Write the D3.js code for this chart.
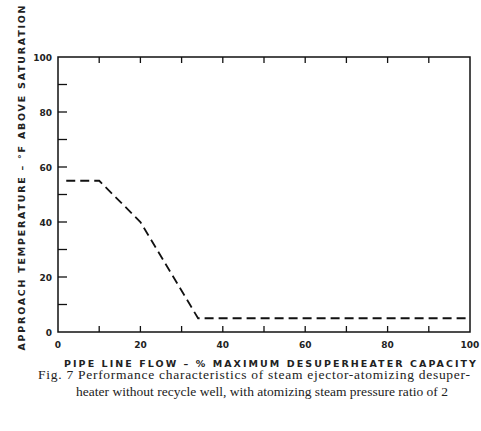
<!DOCTYPE html>
<html><head><meta charset="utf-8">
<script src="https://cdn.jsdelivr.net/npm/d3@7"></script>
<style>body{margin:0;background:#fff}</style></head>
<body><div id="chart"></div>
<script>
var flow = [2, 10, 20, 34, 100];
var temp = [55, 55, 40, 5, 5];
var tickVals = [0, 20, 40, 60, 80, 100];

var width = 481, height = 431;
var m = {left: 58, right: 11, top: 57, bottom: 99};
var svg = d3.select("#chart").append("svg").attr("width", width).attr("height", height);

var x = d3.scaleLinear().domain([0, 100]).range([m.left, width - m.right]);
var y = d3.scaleLinear().domain([0, 100]).range([height - m.bottom, m.top]);

svg.append("rect").attr("x", x(0)).attr("y", y(100))
    .attr("width", x(100) - x(0)).attr("height", y(0) - y(100))
    .attr("fill", "none").attr("stroke", "#111").attr("stroke-width", 1.5);

var minor = d3.range(10, 100, 10);
// inward ticks, bottom/top and left
svg.selectAll(".tb").data(minor).enter().append("line")
    .attr("x1", d => x(d)).attr("x2", d => x(d))
    .attr("y1", y(0)).attr("y2", y(0) - 6).attr("stroke", "#111").attr("stroke-width", 1.3);
svg.selectAll(".tt").data(minor).enter().append("line")
    .attr("x1", d => x(d)).attr("x2", d => x(d))
    .attr("y1", y(100)).attr("y2", y(100) + 6).attr("stroke", "#111").attr("stroke-width", 1.3);
svg.selectAll(".tl").data(minor).enter().append("line")
    .attr("x1", x(0)).attr("x2", x(0) + 9)
    .attr("y1", d => y(d)).attr("y2", d => y(d)).attr("stroke", "#111").attr("stroke-width", 1.3);

var font = "DejaVu Sans, sans-serif";
svg.selectAll(".xl").data(tickVals).enter().append("text")
    .attr("x", d => x(d)).attr("y", y(0) + 16).attr("text-anchor", "middle")
    .attr("font-family", font).attr("font-size", 9).attr("font-weight", "bold").attr("fill", "#222")
    .text(d => d);
svg.selectAll(".yl").data(tickVals).enter().append("text")
    .attr("x", x(0) - 6).attr("y", d => y(d) + 4).attr("text-anchor", "end")
    .attr("font-family", font).attr("font-size", 9).attr("font-weight", "bold").attr("fill", "#222")
    .text(d => d);

svg.append("text").attr("x", 270).attr("y", y(0) + 35)
    .attr("text-anchor", "middle").attr("font-family", font).attr("font-size", 9.5)
    .attr("font-weight", "bold").attr("fill", "#222").attr("xml:space", "preserve")
    .attr("textLength", 412).attr("lengthAdjust", "spacing")
    .text("PIPE LINE FLOW – % MAXIMUM DESUPERHEATER CAPACITY");

svg.append("text").attr("transform", "translate(25,178) rotate(-90)")
    .attr("text-anchor", "middle").attr("font-family", font).attr("font-size", 9.5)
    .attr("font-weight", "bold").attr("fill", "#222").attr("xml:space", "preserve")
    .attr("textLength", 345).attr("lengthAdjust", "spacing")
    .text("APPROACH TEMPERATURE – °F ABOVE SATURATION");

var line = d3.line().x((d, i) => x(flow[i])).y(d => y(d));
svg.append("path").datum(temp).attr("d", line)
    .attr("fill", "none").attr("stroke", "#111").attr("stroke-width", 1.8)
    .attr("stroke-dasharray", "9,5");

var cap = svg.append("text").attr("font-family", "Liberation Serif, serif")
    .attr("font-size", 13.5).attr("fill", "#222");
cap.append("tspan").attr("x", 38).attr("y", 379).attr("textLength", 432)
    .text("Fig. 7  Performance characteristics of steam ejector-atomizing desuper-");
cap.append("tspan").attr("x", 76).attr("y", 396).attr("textLength", 372)
    .text("heater without recycle well, with atomizing steam pressure ratio of 2");
</script></body></html>
